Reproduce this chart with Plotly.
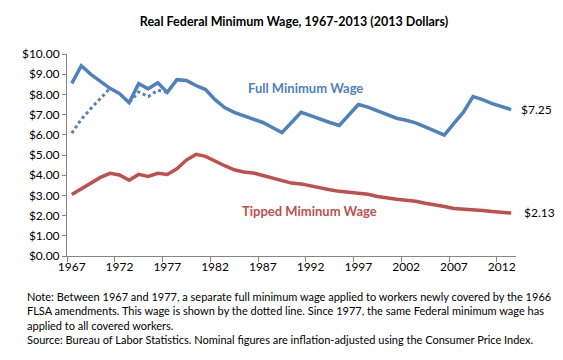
import plotly.graph_objects as go

years = list(range(1967, 2014))
full_wage = [8.55, 9.42, 8.99, 8.63, 8.30, 8.04, 7.59, 8.53, 8.28, 8.58,
             8.10, 8.73, 8.69, 8.44, 8.24, 7.74, 7.35, 7.11, 6.95, 6.80,
             6.61, 6.36, 6.11, 6.61, 7.11, 6.95, 6.76, 6.61, 6.46, 6.95,
             7.50, 7.37, 7.20, 7.02, 6.82, 6.72, 6.59, 6.39, 6.19, 5.98,
             6.57, 7.12, 7.89, 7.74, 7.54, 7.41, 7.25]
tipped_wage = [3.04, 3.33, 3.65, 3.89, 4.09, 4.01, 3.75, 4.04, 3.94, 4.09,
               4.04, 4.32, 4.75, 5.03, 4.93, 4.68, 4.47, 4.27, 4.16, 4.11,
               3.98, 3.83, 3.70, 3.61, 3.57, 3.47, 3.35, 3.28, 3.20, 3.16,
               3.11, 3.06, 2.95, 2.86, 2.81, 2.76, 2.71, 2.61, 2.54, 2.45,
               2.35, 2.32, 2.32, 2.25, 2.20, 2.15, 2.13]
new_cov_years = list(range(1967, 1978))
new_cov_wage = [6.08, 6.77, 7.30, 7.82, 8.30, 8.04, 7.59, 8.12, 7.89, 8.21, 8.10]
tick_years = [1967, 1972, 1977, 1982, 1987, 1992, 1997, 2002, 2007, 2012]

BLUE = "#4F81BD"
RED = "#C0504D"
FONT = "Lato"

fig = go.Figure()
fig.add_trace(go.Scatter(x=new_cov_years, y=new_cov_wage, mode="lines",
                         line=dict(color=BLUE, width=3, dash="dot"), showlegend=False))
fig.add_trace(go.Scatter(x=years, y=full_wage, mode="lines",
                         line=dict(color=BLUE, width=3.5), showlegend=False))
fig.add_trace(go.Scatter(x=years, y=tipped_wage, mode="lines",
                         line=dict(color=RED, width=3.5), showlegend=False))

fig.update_layout(
    width=563, height=360,
    margin=dict(l=59, r=55, t=46, b=112),
    paper_bgcolor="white", plot_bgcolor="white",
    font=dict(family=FONT, size=12, color="#000000"),
    title=dict(text="<b>Real Federal Minimum Wage, 1967-2013 (2013 Dollars)</b>",
               x=0.508, xanchor="center", y=0.962, yanchor="middle",
               font=dict(family=FONT, size=12.5, color="#000000")),
    xaxis=dict(range=[1966.5, 2013.5], tickmode="array", tickvals=tick_years,
               ticktext=[str(y) for y in tick_years], ticks="",
               showline=True, linecolor="#868686", linewidth=1,
               showgrid=False, zeroline=False, tickfont=dict(size=12),
               minor=dict(tickmode="linear", tick0=1966.5, dtick=5, ticks="outside",
                          ticklen=5, tickcolor="#868686", showgrid=False)),
    yaxis=dict(range=[0, 10], dtick=1, tickformat="$.2f", ticks="outside",
               ticklen=4, tickcolor="#868686", showline=True, linecolor="#868686",
               linewidth=1, showgrid=False, zeroline=False, tickfont=dict(size=12)),
    annotations=[
        dict(x=1991.5, y=8.30, xref="x", yref="y", text="<b>Full Minimum Wage</b>",
             showarrow=False, font=dict(family=FONT, size=13, color=BLUE)),
        dict(x=1991.9, y=2.22, xref="x", yref="y", text="<b>Tipped Miminum Wage</b>",
             showarrow=False, font=dict(family=FONT, size=13, color=RED)),
        dict(x=2013, y=7.25, xref="x", yref="y", text="$7.25", showarrow=False,
             xanchor="left", xshift=8, font=dict(family=FONT, size=12, color="#000000")),
        dict(x=2013, y=2.13, xref="x", yref="y", text="$2.13", showarrow=False,
             xanchor="left", xshift=11, font=dict(family=FONT, size=12, color="#000000")),
        dict(x=-42 / 449, y=-0.158, xref="paper", yref="paper", xanchor="left",
             yanchor="top", align="left", showarrow=False,
             font=dict(family=FONT, size=11, color="#000000"),
             text=("Note: Between 1967 and 1977, a separate full minimum wage applied to workers newly covered by the 1966<br>"
                   "FLSA amendments. This wage is shown by the dotted line. Since 1977, the same Federal minimum wage has<br>"
                   "applied to all covered workers.<br>"
                   "Source: Bureau of Labor Statistics. Nominal figures are inflation-adjusted using the Consumer Price Index.")),
    ],
)

fig.write_html("out.html")
